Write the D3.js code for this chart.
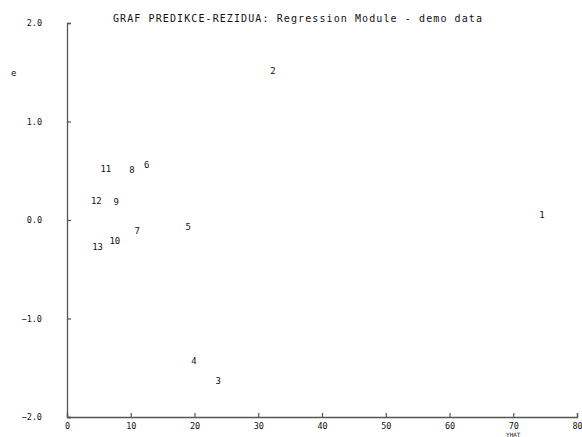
<!DOCTYPE html>
<html>
<head>
<meta charset="utf-8">
<script src="https://cdn.jsdelivr.net/npm/d3@7"></script>
<style>
  html, body { margin: 0; padding: 0; background: #fff; }
  svg { display: block; }
  text { font-family: "DejaVu Sans Mono", monospace; fill: #111; }
</style>
</head>
<body>
<svg id="chart" width="582" height="437"></svg>
<script>
// Residuals vs. predicted values, each point labelled with its case number
const caseIds   = [1, 2, 3, 4, 5, 6, 7, 8, 9, 10, 11, 12, 13];
const predicted = [74.5, 32.3, 23.7, 19.9, 19.0, 12.5, 11.0, 10.2, 7.7, 7.5, 6.1, 4.6, 4.8];
const residuals = [0.05, 1.51, -1.63, -1.43, -0.07, 0.56, -0.11, 0.51, 0.18, -0.21, 0.52, 0.19, -0.27];

const xTicks = [0, 10, 20, 30, 40, 50, 60, 70, 80];
const yTicks = [-2.0, -1.0, 0.0, 1.0, 2.0];

const titleText = "GRAF PREDIKCE-REZIDUA: Regression Module - demo data";
const yLabel = "e";
const xLabel = "YHAT";

const svg = d3.select("#chart");
const plotLeft = 67, plotRight = 577, plotTop = 23, plotBottom = 417;

const x = d3.scaleLinear().domain([0, 80]).range([plotLeft, plotRight]);
const y = d3.scaleLinear().domain([-2, 2]).range([plotBottom, plotTop]);

const axisColor = "#555";

// x axis: ticks pointing up into the plot
const gx = svg.append("g").attr("transform", `translate(0,${plotBottom})`)
  .call(d3.axisBottom(x).tickValues(xTicks).tickSize(-4).tickPadding(7)
        .tickFormat(d3.format("d")));
gx.select(".domain").attr("stroke", axisColor).attr("stroke-width", 1.3);
gx.selectAll(".tick line").attr("stroke", axisColor).attr("stroke-width", 1.2);
gx.selectAll(".tick text").attr("font-size", 8.5).attr("dy", "0.6em")
  .style("font-family", "'DejaVu Sans Mono', monospace").attr("fill", "#111");

// y axis: ticks pointing right into the plot, labels set further left
const gy = svg.append("g").attr("transform", `translate(${plotLeft},0)`)
  .call(d3.axisLeft(y).tickValues(yTicks).tickSize(-4).tickPadding(25)
        .tickFormat(d3.format(".1f")));
gy.select(".domain").attr("stroke", axisColor).attr("stroke-width", 1.3);
gy.selectAll(".tick line").attr("stroke", axisColor).attr("stroke-width", 1.2);
gy.selectAll(".tick text").attr("font-size", 8.5)
  .style("font-family", "'DejaVu Sans Mono', monospace").attr("fill", "#111");

// title
svg.append("text")
  .attr("x", 113).attr("y", 22)
  .attr("font-size", 10)
  .attr("textLength", 369)
  .attr("lengthAdjust", "spacing")
  .text(titleText);

// axis names
svg.append("text").attr("x", 11).attr("y", 76).attr("font-size", 9).text(yLabel);
svg.append("text").attr("x", x(70)).attr("y", 437).attr("text-anchor", "middle")
  .attr("font-size", 6).attr("fill", "#444").text(xLabel);

// point labels
svg.append("g").selectAll("text")
  .data(caseIds.map((id, i) => ({ id, px: predicted[i], e: residuals[i] })))
  .join("text")
  .attr("x", d => x(d.px))
  .attr("y", d => y(d.e))
  .attr("text-anchor", "middle")
  .attr("dy", "0.35em")
  .attr("font-size", 9)
  .text(d => d.id);
</script>
</body>
</html>
